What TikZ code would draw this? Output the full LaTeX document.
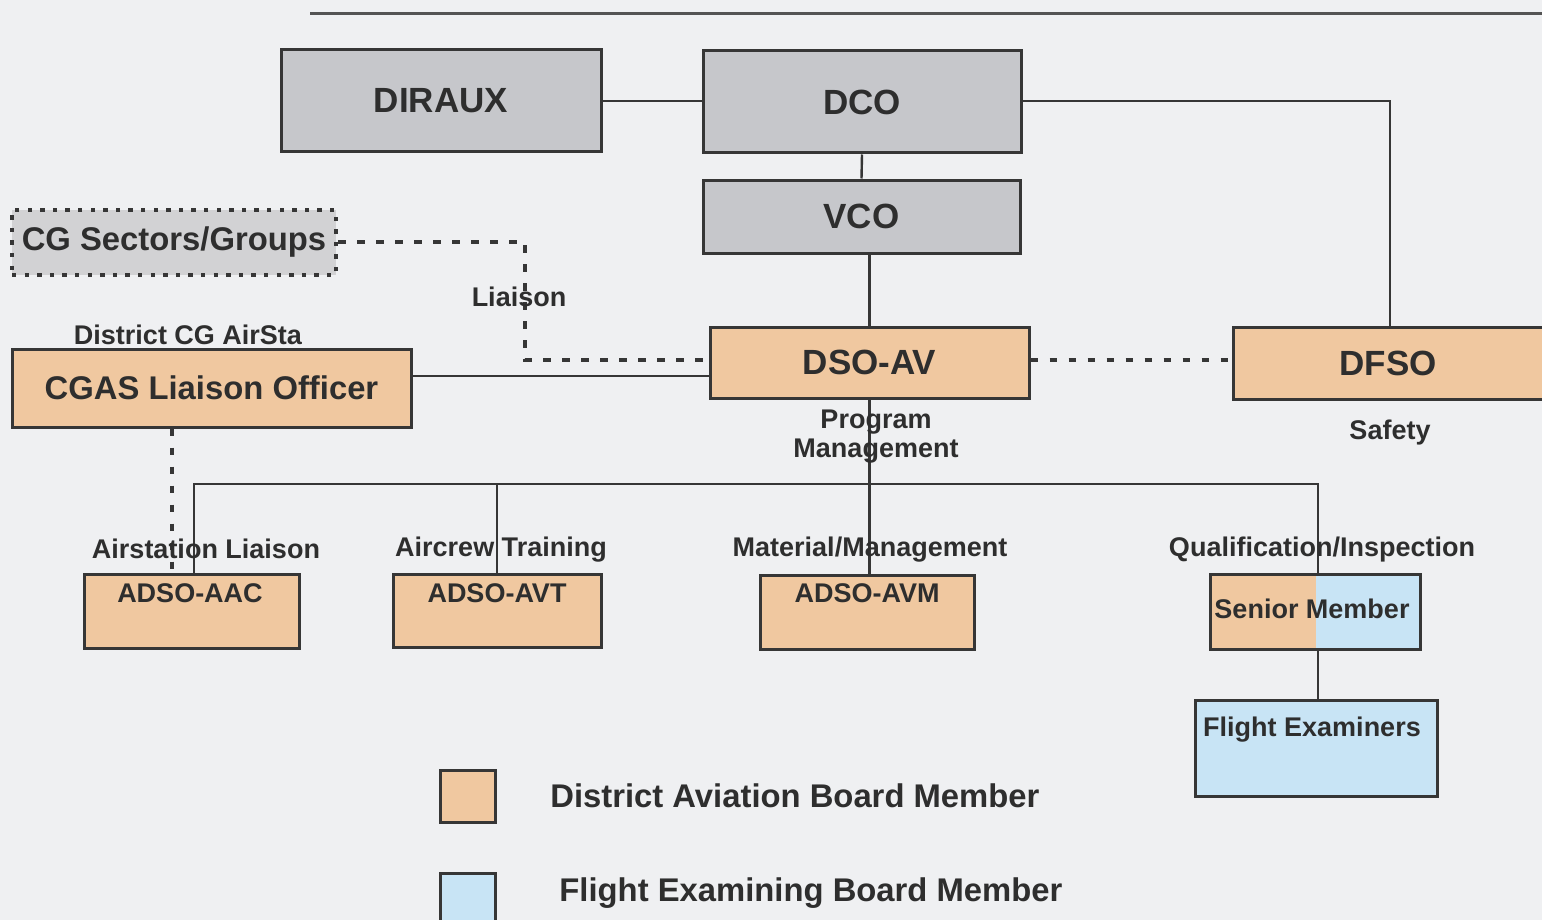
\documentclass[tikz,border=0pt]{standalone}
\usepackage{fontspec}
\setmainfont{Liberation Sans}
\definecolor{bgC}{HTML}{EFF0F2}
\definecolor{boxgray}{HTML}{C6C7CB}
\definecolor{lightgray}{HTML}{D2D2D4}
\definecolor{tanC}{HTML}{F0C8A0}
\definecolor{blueC}{HTML}{C8E4F5}
\definecolor{lineC}{HTML}{363636}
\definecolor{txt}{HTML}{2E2E2E}
\begin{document}
\begin{tikzpicture}[x=0.5pt,y=-0.5pt,
  box/.style={draw=lineC, line width=1.5pt, inner sep=0pt, text=txt},
  graybox/.style={box, fill=boxgray},
  tanbox/.style={box, fill=tanC},
  bluebox/.style={box, fill=blueC},
  conn/.style={draw=lineC, line width=1.2pt},
  dotc/.style={draw=lineC, line width=2.1pt, dash pattern=on 3.7pt off 5.8pt},
  lbl/.style={font=\bfseries\fontsize{13.5}{15}\selectfont, text=txt, inner sep=0pt},
  big/.style={font=\bfseries\fontsize{17.5}{20}\selectfont},
  mid/.style={font=\bfseries\fontsize{16.4}{19}\selectfont},
]
\useasboundingbox (0,0) rectangle (1542,920);
\clip (0,0) rectangle (1542,920);
\fill[bgC] (0,0) rectangle (1542,920);

% scan edge line at top
\coordinate (scanL) at (310,14);
\coordinate (scanR) at (1542,14);
\draw[line width=1.5pt, color=lineC!85] (scanL) -- (scanR);

% top boxes
\node[graybox, big, minimum width=160pt, minimum height=51pt] (diraux) at (441,101) {DIRAUX};
\node[graybox, big, minimum width=159pt, minimum height=51pt] (dco) at (862,102) {DCO};
\node[graybox, big, minimum width=158.5pt, minimum height=36.5pt] (vco) at (861.5,216.5) {VCO};

\node[box, fill=lightgray, draw=lineC, line width=2.2pt, dash pattern=on 2.2pt off 4.1pt, mid,
      minimum width=162pt, minimum height=32.5pt] (cgs) at (174,242.5) {CG Sectors/Groups};

\node[tanbox, mid, minimum width=199.5pt, minimum height=39pt] (cgas) at (211.5,388) {CGAS Liaison Officer};
\node[tanbox, big, minimum width=159.5pt, minimum height=35.5pt] (dsoav) at (869.5,362.5) {DSO-AV};
\node[tanbox, big, minimum width=157pt, minimum height=36pt] (dfso) at (1390,363) {};
\node[lbl, big] (dfsot) at (1388,363) {DFSO};

% lower boxes
\node[tanbox, minimum width=107.5pt, minimum height=37pt] (aac) at (191.5,611) {};
\node[tanbox, minimum width=104pt, minimum height=36.5pt] (avt) at (497,610.5) {};
\node[tanbox, minimum width=107pt, minimum height=37pt] (avm) at (867,612) {};
\node[bluebox, minimum width=105pt, minimum height=37.5pt,
      path picture={\fill[tanC] (path picture bounding box.south west) rectangle ([xshift=0.5pt]path picture bounding box.north);}] (sm) at (1315,611.5) {};
\node[bluebox, minimum width=121pt, minimum height=48pt] (fe) at (1316,748) {};

\node[lbl] (aact) at (190,593) {ADSO-AAC};
\node[lbl] (avtt) at (497,593) {ADSO-AVT};
\node[lbl] (avmt) at (867,593) {ADSO-AVM};
\node[lbl] (smt) at (1312,609) {Senior Member};
\node[lbl] (fet) at (1312,730) {Flight Examiners};

% legend
\node[tanbox, minimum width=27.5pt, minimum height=26pt] (legtan) at (467.5,796) {};
\node[bluebox, minimum width=27.5pt, minimum height=32pt] (legblue) at (467.5,905) {};
\node[lbl, mid, anchor=west] (legtant) at (550,796) {District Aviation Board Member};
\node[lbl, mid, anchor=west] (legbluet) at (559,893) {Flight Examining Board Member};

% connectors
\draw[conn] (diraux.east) -- (diraux.east -| dco.west);
\draw[conn] (dco.south) -- (vco.north);
\draw[conn] (dsoav.north) -- (dsoav.north |- vco.south);
\coordinate (dcoR) at (1390,101);
\draw[conn] (dco.east |- dcoR) -- (dcoR) -- (dfso.north);

\coordinate (lt) at (525,242);
\coordinate (lb) at (525,360);
\draw[dotc] (cgs.east |- lt) -- (lt) -- (lb) -- (lb -| dsoav.west);
\draw[dotc] (dsoav.east |- lb) -- (lb -| dfso.west);

\coordinate (lcg) at (560,376);
\draw[conn] (cgas.east |- lcg) -- (lcg -| dsoav.west);

\coordinate (aacdot) at (172,570);
\draw[dotc] (cgas.south -| aacdot) -- (aacdot);

\coordinate (busL) at (194,484);
\coordinate (busR) at (1318,484);
\draw[conn] (dsoav.south) -- (dsoav.south |- avm.north);
\draw[conn] (aac.north -| busL) -- (busL) -- (busR) -- (busR |- sm.north);
\draw[conn] (avt.north) -- (avt.north |- busL);
\draw[conn] (sm.south -| busR) -- (fe.north -| busR);

% labels
\node[lbl] (liaison) at (519,297) {Liaison};
\node[lbl] (district) at (188,335) {District CG AirSta};
\node[lbl, align=center] (progm) at (876,437) {Program\\[-0.5pt]Management};
\node[lbl] (safety) at (1390,433) {Safety};
\node[lbl] (airl) at (206,549) {Airstation Liaison};
\node[lbl] (airc) at (501,550) {Aircrew Training};
\node[lbl] (matm) at (870,550) {Material/Management};
\node[lbl] (qual) at (1322,550) {Qualification/Inspection};
\end{tikzpicture}
\end{document}
